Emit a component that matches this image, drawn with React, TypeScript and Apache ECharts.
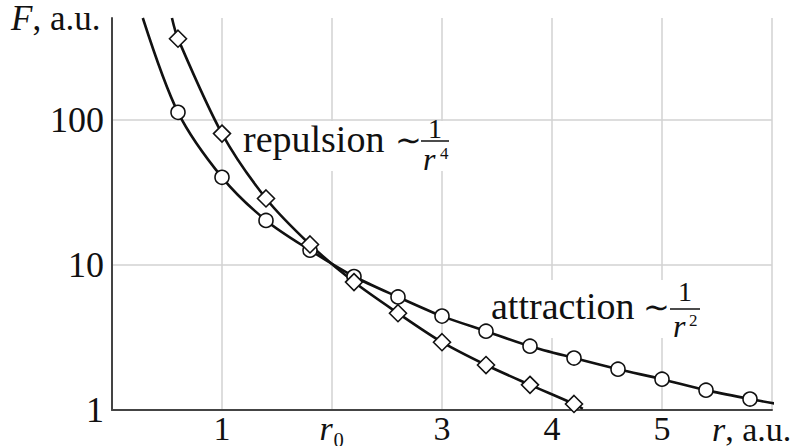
import React, { useEffect, useRef } from "react";
import * as echarts from "echarts";

// Attraction (~1/r^2): circle markers
const rAttr = [0.6, 1.0, 1.4, 1.8, 2.2, 2.6, 3.0, 3.4, 3.8, 4.2, 4.6, 5.0, 5.4, 5.8];
const fAttr = [112, 40, 20.2, 12.6, 8.3, 6.0, 4.43, 3.49, 2.75, 2.28, 1.91, 1.63, 1.37, 1.19];
// curve ends without markers
const attrStart = [0.28, 500];
const attrEnd = [6.02, 1.11];

// Repulsion (~1/r^4): diamond markers
const rRep = [0.6, 1.0, 1.4, 1.8, 2.2, 2.6, 3.0, 3.4, 3.8, 4.2];
const fRep = [360, 80, 28.6, 13.8, 7.6, 4.64, 2.93, 2.04, 1.49, 1.1];
const repStart = [0.545, 500];
const repEnd = [4.28, 1.02];

const xTicks = [0, 1, 2, 3, 4, 5, 6];
const xTickLabels = ["", "1", "{i|r}₀", "3", "4", "5", ""];
const yMin = 1;
const yMax = 500;

const FONT = "'Liberation Serif', 'Times New Roman', serif";
const INK = "#111";

export default function App() {
  const ref = useRef<HTMLDivElement>(null);

  useEffect(() => {
    if (!ref.current) return;
    const chart = echarts.init(ref.current, undefined, { renderer: "svg" });

    const attrPts = rAttr.map((r, i) => [r, fAttr[i]]);
    const repPts = rRep.map((r, i) => [r, fRep[i]]);

    const textBase = { fontFamily: FONT, fill: INK };

    chart.setOption({
      animation: false,
      backgroundColor: "#fff",
      grid: { left: 112, right: 32, top: 18, bottom: 36, containLabel: false },
      xAxis: {
        type: "value",
        min: xTicks[0],
        max: xTicks[xTicks.length - 1],
        interval: 1,
        axisLine: { show: true, lineStyle: { color: "#444", width: 2 } },
        axisTick: { show: false },
        splitLine: { show: true, lineStyle: { color: "#d2d2d2", width: 1.5 } },
        axisLabel: {
          margin: 4,
          fontFamily: FONT,
          fontSize: 34,
          lineHeight: 28,
          color: INK,
          showMinLabel: true,
          showMaxLabel: true,
          formatter: (v: number) => {
            const idx = xTicks.indexOf(v);
            return idx >= 0 ? xTickLabels[idx] : "";
          },
          rich: {
            i: { fontFamily: FONT, fontSize: 34, lineHeight: 28, fontStyle: "italic", color: INK },
          },
        },
      },
      yAxis: {
        type: "log",
        logBase: 10,
        min: yMin,
        max: yMax,
        axisLine: { show: true, onZero: false, lineStyle: { color: "#444", width: 2 } },
        axisTick: { show: false },
        splitLine: {
          show: true,
          showMinLine: false,
          showMaxLine: false,
          lineStyle: { color: "#d2d2d2", width: 1.5 },
        },
        axisLabel: {
          margin: 8,
          fontFamily: FONT,
          fontSize: 36,
          color: INK,
          showMaxLabel: false,
          formatter: (v: number) => (v === 1 || v === 10 || v === 100 ? String(v) : ""),
        },
      },
      graphic: [
        // white boxes behind annotations (interrupt grid lines)
        { type: "rect", z: 1, shape: { x: 246, y: 121, width: 210, height: 50 }, style: { fill: "#fff" } },
        { type: "rect", z: 1, shape: { x: 488, y: 280, width: 218, height: 58 }, style: { fill: "#fff" } },
        // axis titles
        {
          type: "text",
          z: 5,
          x: 11,
          y: 18,
          style: {
            text: "{i|F}, a.u.",
            fontFamily: FONT,
            fontSize: 35,
            lineHeight: 30,
            fill: INK,
            verticalAlign: "middle",
            rich: { i: { fontFamily: FONT, fontSize: 35, lineHeight: 30, fontStyle: "italic", fill: INK } },
          },
        },
        {
          type: "text",
          z: 5,
          x: 712,
          y: 429,
          style: {
            text: "{i|r}, a.u.",
            fontFamily: FONT,
            fontSize: 34,
            lineHeight: 28,
            fill: INK,
            verticalAlign: "middle",
            rich: { i: { fontFamily: FONT, fontSize: 34, lineHeight: 28, fontStyle: "italic", fill: INK } },
          },
        },
        // repulsion annotation
        {
          type: "text",
          z: 5,
          x: 243,
          y: 139,
          style: { ...textBase, text: "repulsion", fontSize: 38, verticalAlign: "middle" },
        },
        {
          type: "text",
          z: 5,
          x: 395,
          y: 140,
          style: { ...textBase, text: "∼", fontSize: 32, verticalAlign: "middle" },
        },
        {
          type: "text",
          z: 5,
          x: 435,
          y: 128,
          style: { ...textBase, text: "1", fontSize: 28, lineHeight: 22, align: "center", verticalAlign: "middle" },
        },
        { type: "line", z: 5, shape: { x1: 421, y1: 141, x2: 449, y2: 141 }, style: { stroke: INK, lineWidth: 1.5 } },
        {
          type: "text",
          z: 5,
          x: 423,
          y: 159,
          style: { ...textBase, text: "r", fontSize: 32, lineHeight: 22, fontStyle: "italic", verticalAlign: "middle" },
        },
        {
          type: "text",
          z: 5,
          x: 440,
          y: 153,
          style: { ...textBase, text: "4", fontSize: 17, lineHeight: 14, verticalAlign: "middle" },
        },
        // attraction annotation
        {
          type: "text",
          z: 5,
          x: 491,
          y: 306,
          style: { ...textBase, text: "attraction", fontSize: 38, verticalAlign: "middle" },
        },
        {
          type: "text",
          z: 5,
          x: 643,
          y: 307,
          style: { ...textBase, text: "∼", fontSize: 32, verticalAlign: "middle" },
        },
        {
          type: "text",
          z: 5,
          x: 685,
          y: 291,
          style: { ...textBase, text: "1", fontSize: 28, lineHeight: 22, align: "center", verticalAlign: "middle" },
        },
        { type: "line", z: 5, shape: { x1: 670, y1: 309, x2: 700, y2: 309 }, style: { stroke: INK, lineWidth: 1.5 } },
        {
          type: "text",
          z: 5,
          x: 673,
          y: 326,
          style: { ...textBase, text: "r", fontSize: 32, lineHeight: 22, fontStyle: "italic", verticalAlign: "middle" },
        },
        {
          type: "text",
          z: 5,
          x: 689,
          y: 320,
          style: { ...textBase, text: "2", fontSize: 17, lineHeight: 14, verticalAlign: "middle" },
        },
      ],
      series: [
        {
          type: "line",
          z: 3,
          data: [attrStart, ...attrPts, attrEnd],
          smooth: 0.3,
          showSymbol: false,
          symbol: "none",
          lineStyle: { color: INK, width: 2.6 },
          silent: true,
        },
        {
          type: "line",
          z: 3,
          data: [repStart, ...repPts, repEnd],
          smooth: 0.3,
          showSymbol: false,
          symbol: "none",
          lineStyle: { color: INK, width: 2.6 },
          silent: true,
        },
        {
          type: "scatter",
          z: 4,
          data: attrPts,
          symbol: "circle",
          symbolSize: 14,
          itemStyle: { color: "#fff", borderColor: INK, borderWidth: 1.6, opacity: 1 },
          silent: true,
        },
        {
          type: "scatter",
          z: 4,
          data: repPts,
          symbol: "diamond",
          symbolSize: 17,
          itemStyle: { color: "#fff", borderColor: INK, borderWidth: 1.6, opacity: 1 },
          silent: true,
        },
      ],
    });

    return () => chart.dispose();
  }, []);

  return <div ref={ref} style={{ width: 804, height: 446, position: "absolute", left: 0, top: 0 }} />;
}
